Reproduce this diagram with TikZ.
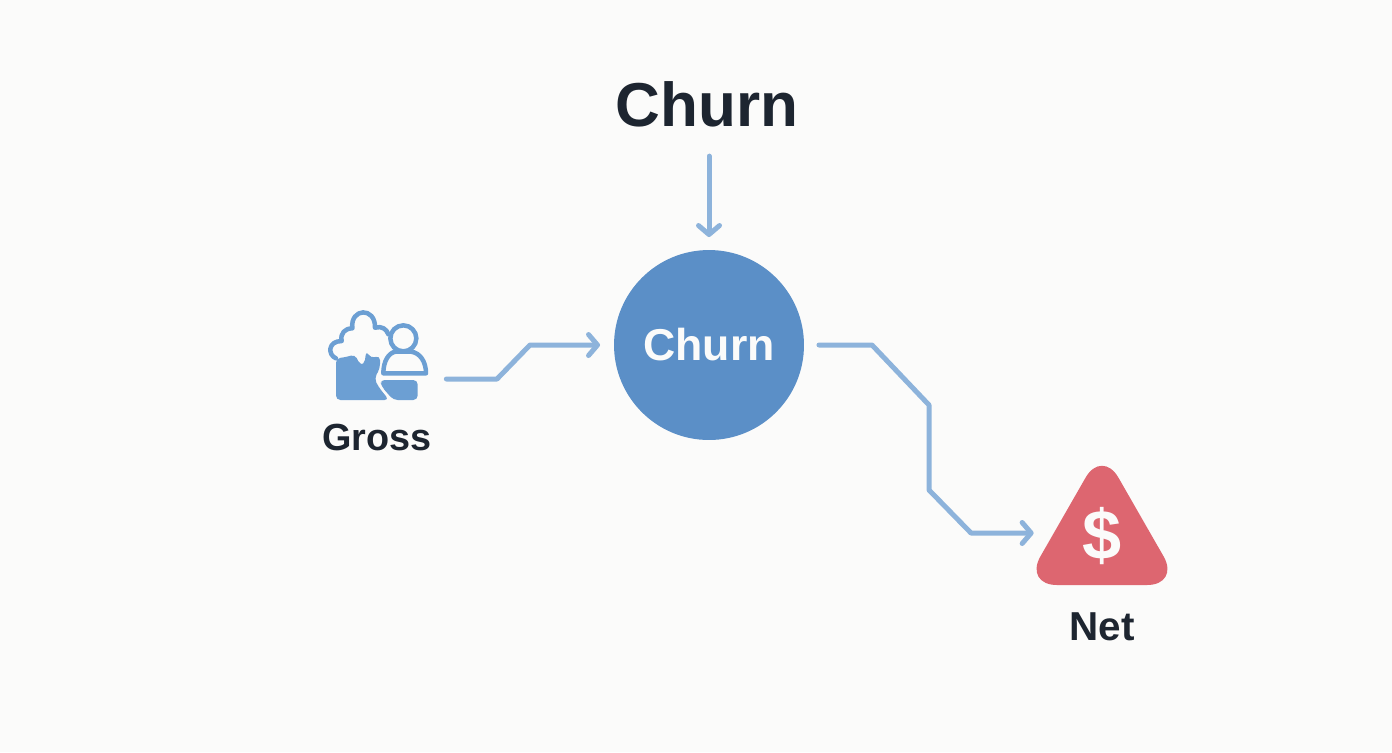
\documentclass[tikz,border=0pt]{standalone}
\usepackage{fontspec}
\setmainfont{Liberation Sans}
\usetikzlibrary{arrows.meta}
\definecolor{pagebg}{HTML}{FBFBFA}
\definecolor{hubblue}{HTML}{5B8FC7}
\definecolor{flowblue}{HTML}{8DB3DB}
\definecolor{iconblue}{HTML}{6C9FD3}
\definecolor{netred}{HTML}{DD6670}
\definecolor{inkdark}{HTML}{1D2530}
\tikzset{
  flow/.style={draw=flowblue,line width=0.1cm,line join=round,line cap=round,
    -{Straight Barb[length=0.18cm,width=0.42cm,line width=0.1cm,round]}},
  iconline/.style={draw=iconblue,line width=0.09cm,line join=round,line cap=round},
  label/.style={text=inkdark,font=\bfseries\fontsize{22}{26}\selectfont,inner sep=0pt}
}
\begin{document}
\begin{tikzpicture}[x=0.02cm,y=-0.02cm]
\fill[pagebg] (0,0) rectangle (1392,752);
\useasboundingbox (0,0) rectangle (1392,752);
% hub and title
\node[circle,fill=hubblue,minimum size=3.8cm,inner sep=0pt,outer sep=0pt,text=pagebg,
  font=\bfseries\fontsize{25.4}{30}\selectfont] (hub) at (709,345) {Churn};
\node[label,font=\bfseries\fontsize{35.3}{40}\selectfont] (title) at (707,104) {Churn};
% gross icon
\node[minimum width=2cm,minimum height=1.8cm,inner sep=0pt] (grossicon) at (380,355) {};
\begin{scope}[shift={(325,305)},scale=1/3]
\fill[iconblue,rounded corners=2.5pt] (33,160) -- (65,156) -- (90,148) -- (105,180) -- (118,178) -- (124,137)
  -- (137,160) -- (165,152) -- (165,190) -- (148,220) -- (160,245) -- (192,285) -- (33,285) -- cycle;
\draw[iconline] (33,160) .. controls (8,150) and (8,108) .. (50,108)
  .. controls (45,85) and (60,70) .. (82,70)
  .. controls (75,8) and (152,5) .. (150,68)
  .. controls (170,62) and (185,72) .. (190,88);
\fill[iconblue,rounded corners=2.5pt] (165,225) -- (278,225) -- (278,285) -- (205,285) -- (170,245) -- cycle;
\draw[iconline] (235,100) circle [radius=39];
\draw[iconline] (175,205) .. controls (175,170) and (190,143) .. (212,140)
  -- (258,140) .. controls (285,143) and (303,170) .. (303,205) -- cycle;
\end{scope}
\node[label,font=\bfseries\fontsize{21.5}{26}\selectfont] (gross) at (377,437) {Gross};
% net sign
\fill[netred,rounded corners=0.66cm] (1102,449) -- (1180,585) -- (1024,585) -- cycle;
\node[text=pagebg,inner sep=0pt,minimum width=2.72cm,
  font=\bfseries\fontsize{40}{44}\selectfont] (dollar) at (1102,536) {\$};
\node[label,font=\bfseries\fontsize{23}{26}\selectfont] (net) at (1102,627) {Net};
% bends
\coordinate (g1) at (497,379);
\coordinate (g2) at (530,345);
\coordinate (n1) at (872,345);
\coordinate (n2) at (929,405);
\coordinate (n3) at (929,490);
\coordinate (n4) at (971,533);
% connectors
\draw[flow,shorten <=0.58cm,shorten >=0.26cm] (title.south -| hub.north) -- (hub.north);
\draw[flow,shorten >=0.28cm] ([shift={(16,24)}]grossicon.east) -- (g1) -- (g2) -- (hub.west);
\draw[flow,shorten <=0.3cm] (hub.east) -- (n1) -- (n2) -- (n3) -- (n4) -- ([shift={(0,-3)}]dollar.west);
\end{tikzpicture}
\end{document}
